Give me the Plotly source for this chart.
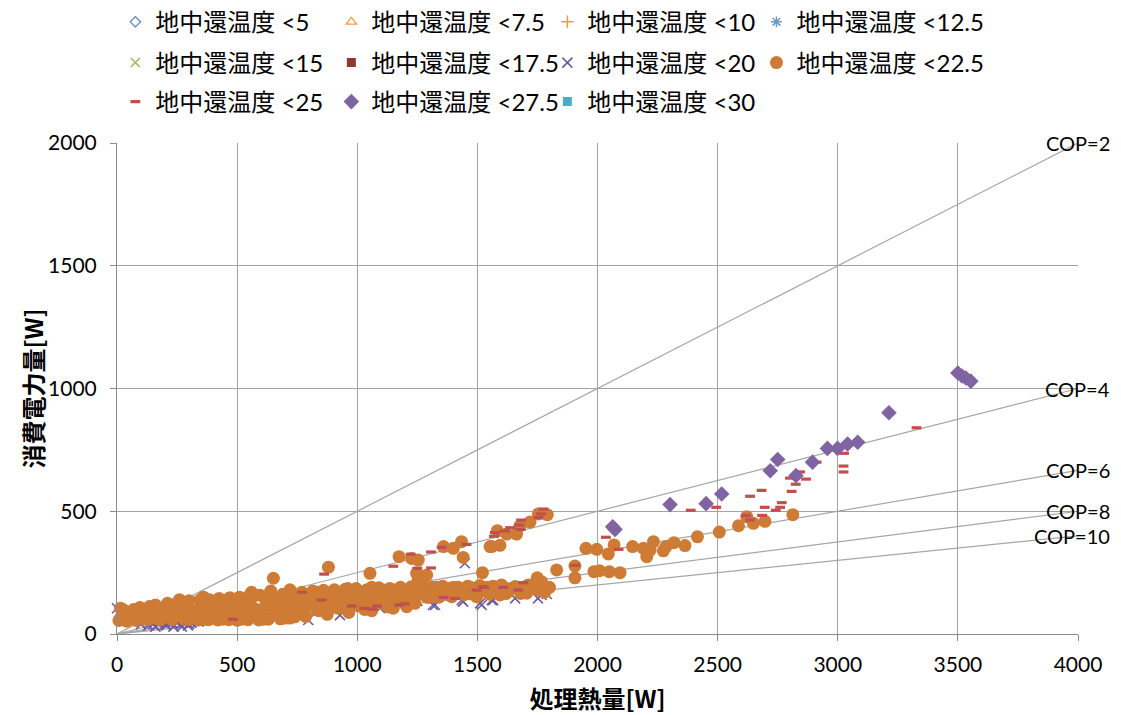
import plotly.graph_objects as go

# ---------------- data ----------------
series_names = ["地中還温度 <5", "地中還温度 <7.5", "地中還温度 <10", "地中還温度 <12.5",
                "地中還温度 <15", "地中還温度 <17.5", "地中還温度 <20", "地中還温度 <22.5",
                "地中還温度 <25", "地中還温度 <27.5", "地中還温度 <30"]

# series without visible points
x_lt5, y_lt5 = [None], [None]
x_lt7_5, y_lt7_5 = [None], [None]
x_lt10, y_lt10 = [None], [None]
x_lt12_5, y_lt12_5 = [None], [None]
x_lt15, y_lt15 = [None], [None]
x_lt17_5, y_lt17_5 = [None], [None]
x_lt30, y_lt30 = [None], [None]

# <20 (purple x)
x_lt20 = [0, 12, 20, 30, 45, 60, 96, 108, 120, 140, 160, 180, 200, 215, 230, 248, 262, 275,
          290, 305, 320, 340, 360, 380, 400, 430, 460, 490, 520, 560, 600, 650, 706, 740, 796,
          850, 928, 980, 1095, 1095, 1171, 1250, 1315, 1324, 1435, 1441, 1448, 1511, 1518,
          1560, 1566, 1657, 1752, 1767, 1789,
          100, 115, 130, 145, 160, 175, 190, 205, 220, 235, 250, 265, 280, 295, 310, 125,
          185, 240, 200, 270, 150, 300]
y_lt20 = [105, 91, 100, 80, 70, 85, 64, 57, 75, 60, 52, 55, 50, 60, 45, 50, 57, 70,
          48, 55, 65, 50, 75, 60, 55, 70, 62, 80, 65, 90, 75, 85, 166, 100, 57,
          95, 77, 110, 105, 183, 118, 135, 118, 118, 138, 132, 288, 125, 118,
          138, 138, 145, 145, 159, 163,
          40, 55, 35, 48, 30, 42, 60, 35, 50, 30, 45, 38, 55, 35, 45, 65,
          70, 62, 40, 30, 40, 40]

# <22.5 (orange circles)
x_lt22_5 = [8, 25, 40, 60, 80, 70, 95, 120, 135, 150, 160, 180, 195, 210, 225, 240, 250, 265,
            280, 290, 300, 320, 330, 345, 360, 370, 385, 400, 410, 425, 440, 455, 470, 480,
            495, 510, 520, 535, 550, 565, 580, 595, 610, 620, 640, 651, 660, 675, 690, 700,
            715, 730, 745, 760, 770, 785, 800, 815, 830, 845, 860, 875, 880, 890, 905, 920,
            935, 950, 965, 980, 995, 1010, 1025, 1040, 1053, 1060, 1075, 1090, 1105, 1120,
            1135, 1150, 1165, 1174, 1180, 1195, 1206, 1210, 1225, 1226, 1240, 1247, 1254,
            1254, 1260, 1275, 1289, 1290, 1303, 1310, 1330, 1340, 1355, 1359, 1370, 1386,
            1393, 1400, 1400, 1415, 1434, 1441, 1445, 1460, 1476, 1476, 1490, 1497, 1510,
            1521, 1550, 1553, 1559, 1565, 1583, 1594, 1594, 1610, 1622, 1630, 1657, 1663,
            1677, 1680, 1705, 1712, 1719, 1749, 1754, 1754, 1767, 1791, 1830, 1906, 1906,
            1952, 1985, 1997, 2008, 2045, 2049, 2069, 2094, 2146, 2191, 2205, 2219, 2233,
            2274, 2285, 2318, 2364, 2416, 2507, 2587, 2621, 2649, 2697, 2813,
            15, 100, 130, 170, 230, 300, 340, 380, 420, 465, 500, 545, 590, 630, 680, 720, 740,
            50, 110, 190, 260, 310, 350, 390, 440, 505, 560, 600, 650, 700, 740, 790, 840,
            870, 910, 960, 1000, 1030, 1080, 1130, 1160, 1190, 1230, 1270, 1320, 1350, 1380,
            1420, 1455, 1520, 1540, 1580, 1640, 1700, 1730, 1780,
            20, 90, 160, 230, 300, 370, 440, 510, 580, 650, 720,
            30, 180, 280, 420, 470, 530, 620, 680, 760, 820, 900, 1000, 1050,
            260, 360, 460, 560, 660, 760, 860, 940, 1020, 1110, 1200, 1250, 1300, 1360, 1430,
            1500, 1560, 1620, 1690, 1760,
            560, 640, 720, 830, 960, 1060, 1150, 1240, 1330, 1400, 1470, 1600, 1660, 1740, 1800]
y_lt22_5 = [55, 58, 52, 62, 55, 100, 108, 60, 112, 70, 118, 58, 95, 125, 62, 120, 85, 130,
            60, 110, 135, 70, 95, 138, 62, 120, 140, 75, 100, 145, 60, 130, 148, 85,
            110, 150, 60, 125, 155, 75, 100, 158, 60, 135, 160, 227, 90, 115, 162, 65,
            140, 165, 95, 120, 170, 72, 150, 175, 100, 130, 178, 80, 272, 155, 180, 105,
            135, 182, 88, 160, 185, 115, 140, 180, 247, 95, 165, 188, 125, 150,
            185, 105, 170, 315, 190, 130, 111, 160, 192, 308, 125, 247, 301,
            220, 175, 195, 240, 150, 179, 190, 166, 150, 195, 356, 165, 159,
            152, 349, 190, 175, 376, 312, 160, 195, 163, 172, 185, 152, 198,
            250, 162, 356, 356, 195, 421, 361, 159, 190, 407, 175, 193, 407,
            440, 165, 166, 200, 456, 229, 489, 179, 213, 486, 261, 277, 229,
            349, 254, 345, 258, 326, 254, 363, 250, 356, 349, 315, 342, 376,
            339, 356, 372, 360, 396, 415, 441, 478, 451, 459, 486,
            105, 65, 58, 62, 58, 60, 57, 58, 57, 58, 56, 58, 57, 60, 62, 65, 70,
            80, 85, 78, 95, 88, 100, 92, 105, 95, 110, 85, 105, 95, 110, 115, 95,
            120, 140, 120, 150, 100, 130, 110, 140, 160, 150, 165, 180, 175, 185,
            190, 180, 180, 190, 180, 185, 185, 195, 170,
            75, 72, 80, 78, 82, 76, 85, 80, 88, 78, 85,
            95, 100, 115, 120, 112, 105, 118, 110, 100, 120, 110, 125, 130,
            140, 150, 140, 145, 140, 150, 145, 155, 160, 165, 140, 170, 150, 170, 175,
            165, 175, 165, 180, 185,
            170, 175, 180, 170, 185, 190, 180, 185, 190, 175, 190, 200, 190, 205, 190]

# <25 (red dash)
x_lt25 = [482, 770, 862, 852, 977, 1029, 1064, 1083, 1174, 1196, 1150, 1222, 1250, 1307, 1307,
          1351, 1359, 1407, 1455, 1497, 1525, 1528, 1569, 1573, 1608, 1615, 1636, 1670, 1675,
          1680, 1682, 1691, 1754, 1765, 1775, 1906, 2035, 2088, 2388, 2494, 2618, 2635, 2635,
          2683, 2685, 2696, 2742, 2760, 2767, 2801, 2808, 2825, 2843, 2868, 2912, 3024, 3024,
          3026, 3328]
y_lt25 = [60, 170, 244, 138, 114, 105, 101, 114, 118, 123, 276, 325, 268, 269, 334,
          353, 149, 145, 365, 179, 193, 190, 398, 413, 190, 420, 433, 179, 444,
          426, 464, 209, 474, 489, 509, 280, 394, 345, 504, 516, 482, 464, 561,
          585, 483, 516, 504, 516, 535, 635, 581, 610, 660, 631, 700, 660, 684,
          736, 840]

# <27.5 (purple diamonds)
x_lt27_5 = [2063, 2073, 2302, 2452, 2517, 2719, 2750, 2826, 2895, 2957, 2999, 3041, 3083, 3213,
            3500, 3517, 3533, 3554]
y_lt27_5 = [437, 426, 527, 531, 570, 665, 711, 645, 700, 756, 756, 774, 781, 901,
            1063, 1051, 1043, 1030]

cop_values = [2, 4, 6, 8, 10]
cop_labels = ["COP=2", "COP=4", "COP=6", "COP=8", "COP=10"]
x_max = 4000
x_title = "処理熱量[W]"
y_title = "消費電力量[W]"

# ---------------- figure ----------------
FONT = "Lato, 'Noto Sans CJK JP', sans-serif"
CJK = "'Noto Sans CJK JP', Lato, sans-serif"
GRID = "#A3A3A3"

fig = go.Figure()

# COP reference lines
for c in cop_values:
    fig.add_trace(go.Scatter(x=[0, x_max], y=[0, x_max / c], mode="lines",
                             line=dict(color="#A6A6A6", width=1.2),
                             showlegend=False, hoverinfo="skip"))

styles = [
    (x_lt5, y_lt5, dict(symbol="diamond-open", size=8, color="#4F81BD", line=dict(width=1.2, color="#4F81BD")), "legend"),
    (x_lt7_5, y_lt7_5, dict(symbol="triangle-up-open", size=9, color="#F79646", line=dict(width=1.2, color="#F79646")), "legend"),
    (x_lt10, y_lt10, dict(symbol="cross-thin", size=9, color="#F79646", line=dict(width=1.5, color="#F79646")), "legend"),
    (x_lt12_5, y_lt12_5, dict(symbol="asterisk-open", size=9, color="#6F97C8", line=dict(width=1.5, color="#6F97C8")), "legend4"),
    (x_lt15, y_lt15, dict(symbol="x-thin", size=9, color="#9BBB59", line=dict(width=1.5, color="#9BBB59")), "legend2"),
    (x_lt17_5, y_lt17_5, dict(symbol="square", size=9, color="#943634"), "legend2"),
    (x_lt20, y_lt20, dict(symbol="x-thin", size=10, color="#6F5A9E", line=dict(width=1.6, color="#6F5A9E")), "legend2"),
    (x_lt22_5, y_lt22_5, dict(symbol="circle", size=13, color="#CE7B35"), "legend5"),
    (x_lt25, y_lt25, dict(symbol="line-ew", size=7, color="#C0504D", line=dict(width=3.2, color="#C0504D")), "legend3"),
    (x_lt27_5, y_lt27_5, dict(symbol="diamond", size=12, color="#8064A2"), "legend3"),
    (x_lt30, y_lt30, dict(symbol="square", size=9, color="#4BACC6"), "legend3"),
]

for name, (xs, ys, mk, lg) in zip(series_names, styles):
    fig.add_trace(go.Scatter(x=xs, y=ys, mode="markers", name=name, marker=mk,
                             legend=lg, cliponaxis=False))

for c, lab in zip(cop_values, cop_labels):
    fig.add_annotation(x=x_max, y=x_max / c, text=lab, showarrow=False,
                       xanchor="right", yanchor="middle", xshift=34,
                       font=dict(family=FONT, size=20, color="#000000"))

# y-axis title as rotated annotation
fig.add_annotation(xref="paper", yref="paper", x=-(117 - 32) / 961, y=0.5,
                   text="<b>" + y_title + "</b>", textangle=-90, showarrow=False,
                   xanchor="center", yanchor="middle",
                   font=dict(family=CJK, size=24, color="#000000"))

leg_base = dict(orientation="h", xanchor="left", yanchor="middle",
                font=dict(family=FONT, size=24, color="#000000"),
                bgcolor="rgba(0,0,0,0)", itemclick=False)
leg_rows = dict(entrywidth=171, entrywidthmode="pixels", **leg_base)

col1_x = -0.0017
col4_x = col1_x + (3 * 218.7 - 15) / 961
row_y = [1.246, 1.163, 1.0835]

fig.update_layout(
    width=1113, height=707,
    margin=dict(l=109, r=43, t=135, b=81, autoexpand=False),
    plot_bgcolor="white", paper_bgcolor="white",
    font=dict(family=FONT, size=21, color="#000000"),
    legend=dict(x=col1_x, y=row_y[0], **leg_rows),
    legend2=dict(x=col1_x, y=row_y[1], **leg_rows),
    legend3=dict(x=col1_x, y=row_y[2], **leg_rows),
    legend4=dict(x=col4_x, y=row_y[0], **leg_base),
    legend5=dict(x=col4_x, y=row_y[1], **leg_base),
    xaxis=dict(range=[0, x_max], dtick=500, tick0=0, showgrid=True, gridcolor=GRID, gridwidth=1,
               showline=True, linecolor="#8C8C8C", linewidth=1, ticks="outside", ticklen=6,
               tickcolor="#8C8C8C", zeroline=False, automargin=False, ticklabelstandoff=6,
               tickfont=dict(family=FONT, size=21),
               title=dict(text="<b>" + x_title + "</b>", standoff=22,
                          font=dict(family=CJK, size=24))),
    yaxis=dict(range=[0, 2000], dtick=500, tick0=0, showgrid=True, gridcolor=GRID, gridwidth=1,
               showline=True, linecolor="#8C8C8C", linewidth=1, ticks="outside", ticklen=6,
               tickcolor="#8C8C8C", zeroline=False, automargin=False, ticklabelstandoff=9,
               tickfont=dict(family=FONT, size=21)),
)

fig.write_html("out.html")
